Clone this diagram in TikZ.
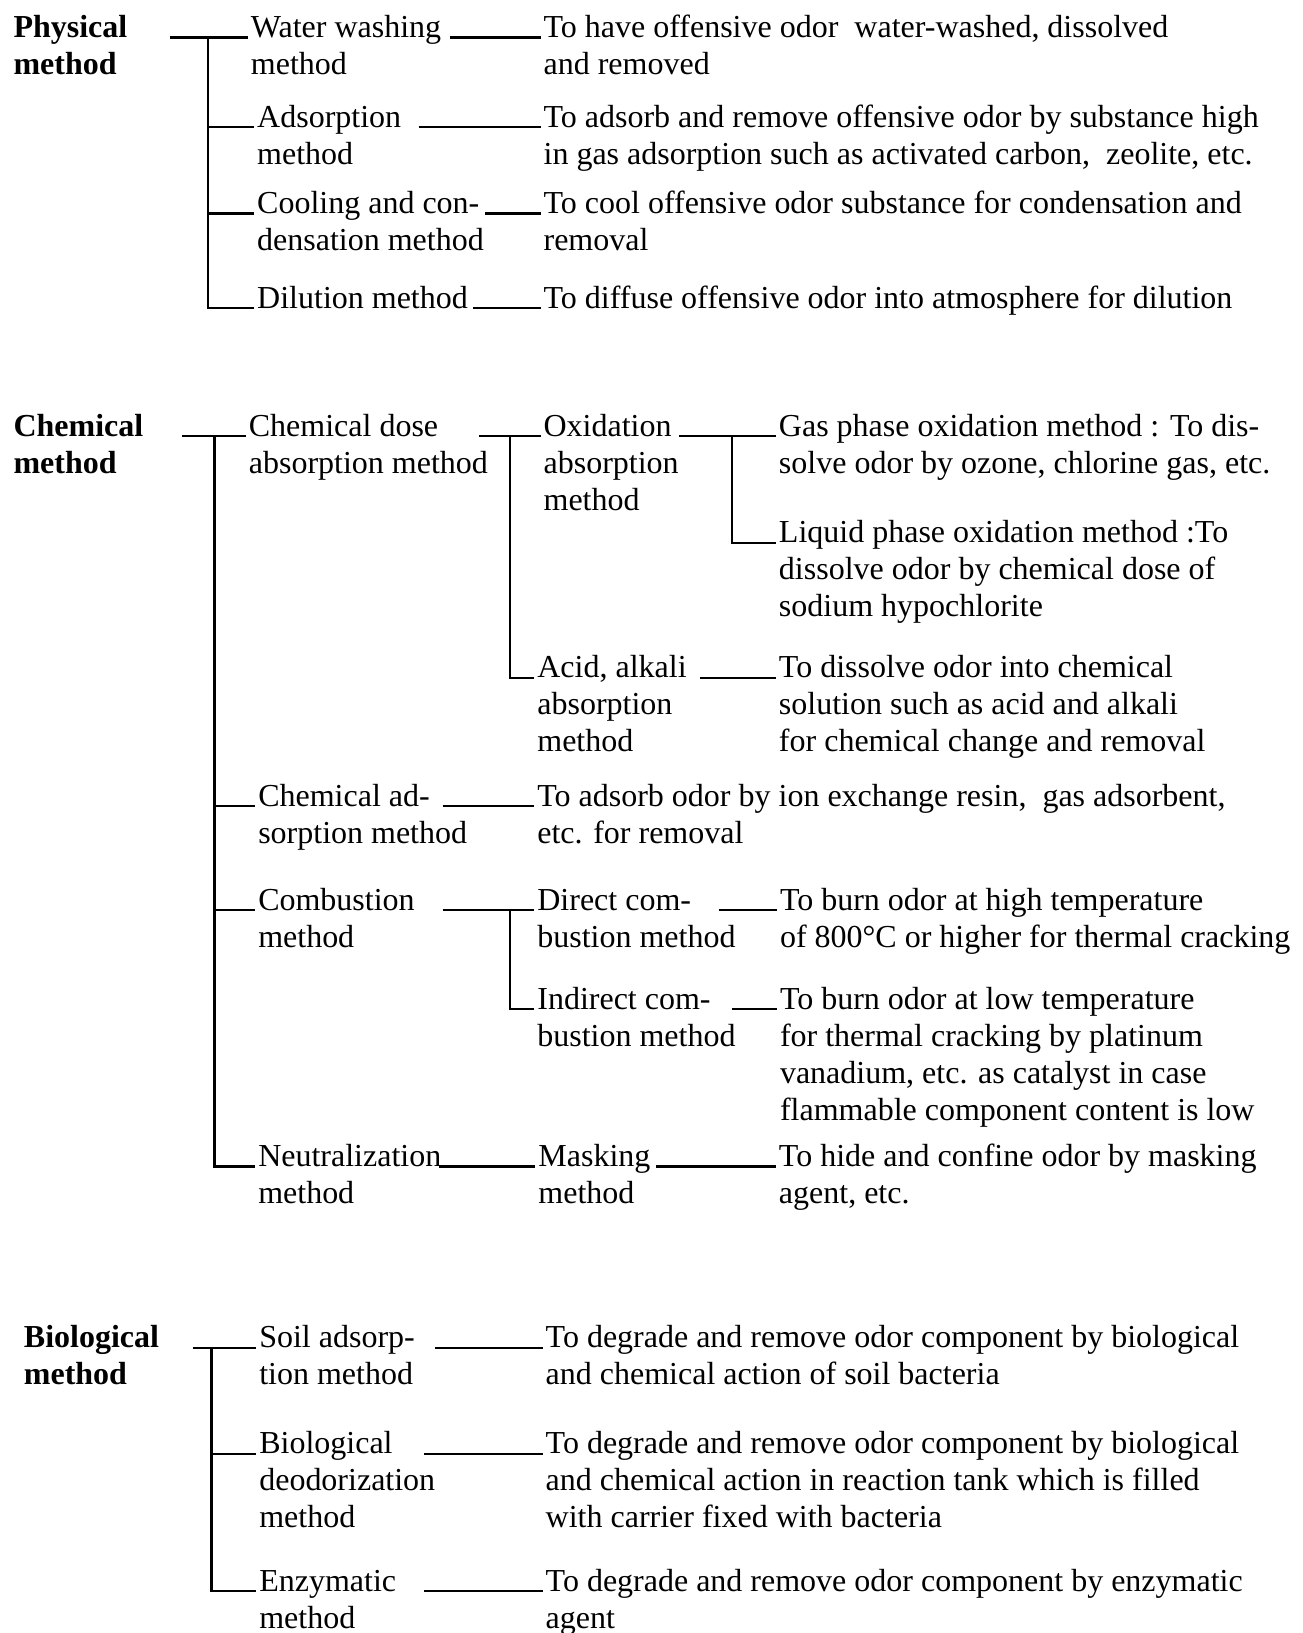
\documentclass[tikz,border=0pt]{standalone}
\usepackage{fontspec}
\setmainfont{Liberation Serif}
\newcommand\lns[1]{\begin{tabular}[t]{@{}l@{}}#1\end{tabular}}
\begin{document}
\begin{tikzpicture}[x=0.5208pt,y=-0.5208pt,line width=1.1pt,
    font=\fontsize{16}{18.5}\selectfont,
    txt/.style={anchor=base west,inner sep=1pt},
    hd/.style={txt,font=\fontsize{16}{18.5}\selectfont\bfseries}]
  \useasboundingbox (0,0) rectangle (1251,1568);

  \node [hd] (ph) at (10,36) {\lns{Physical\\method}};
  \node [txt] (w) at (238,36) {\lns{Water washing\\method}};
  \node [txt] (wt) at (519,36) {\lns{To have offensive odor~ water-washed, dissolved\\and removed}};
  \node [txt] (ad) at (244,122) {\lns{Adsorption\\method}};
  \node [txt] (adt) at (519,122) {\lns{To adsorb and remove offensive odor by substance high\\in gas adsorption such as activated carbon,~ zeolite, etc.}};
  \node [txt] (co) at (244,205) {\lns{Cooling and con-\\densation method}};
  \node [txt] (cot) at (519,205) {\lns{To cool offensive odor substance for condensation and\\removal}};
  \node [txt] (dl) at (244,296) {Dilution method};
  \node [txt] (dlt) at (519,296) {To diffuse offensive odor into atmosphere for dilution};

  \draw (ph.base -| 163,0) -- (w.base west);
  \draw (w.base -| 200,0) |- (dl.base west);
  \draw (ad.base -| 200,0) -- (ad.base west);
  \draw (co.base -| 200,0) -- (co.base west);
  \draw (w.base -| 432,0) -- (wt.base west);
  \draw (ad.base -| 402,0) -- (adt.base west);
  \draw (co.base -| 466,0) -- (cot.base west);
  \draw (dl.base -| 454,0) -- (dlt.base west);

  \node [hd] (ch) at (10,419) {\lns{Chemical\\method}};
  \node [txt] (cd) at (236,419) {\lns{Chemical dose\\absorption method}};
  \node [txt] (ox) at (519,419) {\lns{Oxidation\\absorption\\method}};
  \node [txt] (gp) at (745,419) {\lns{Gas phase oxidation method : To dis-\\solve odor by ozone, chlorine gas, etc.}};
  \node [txt] (lp) at (745,521) {\lns{Liquid phase oxidation method :To\\dissolve odor by chemical dose of\\sodium hypochlorite}};
  \node [txt] (ac) at (513,651) {\lns{Acid, alkali\\absorption\\method}};
  \node [txt] (act) at (745,651) {\lns{To dissolve odor into chemical\\solution such as acid and alkali\\for chemical change and removal}};
  \node [txt] (ca) at (245,774) {\lns{Chemical ad-\\sorption method}};
  \node [txt] (cat) at (513,774) {\lns{To adsorb odor by ion exchange resin,~ gas adsorbent,\\etc. for removal}};
  \node [txt] (cb) at (245,874) {\lns{Combustion\\method}};
  \node [txt] (dc) at (513,874) {\lns{Direct com-\\bustion method}};
  \node [txt] (dct) at (746,874) {\lns{To burn odor at high temperature\\of 800°C or higher for thermal cracking}};
  \node [txt] (ic) at (513,969) {\lns{Indirect com-\\bustion method}};
  \node [txt] (ict) at (746,969) {\lns{To burn odor at low temperature\\for thermal cracking by platinum\\vanadium, etc. as catalyst in case\\flammable component content is low}};
  \node [txt] (ne) at (245,1120) {\lns{Neutralization\\method}};
  \node [txt] (mk) at (514,1120) {\lns{Masking\\method}};
  \node [txt] (mkt) at (745,1120) {\lns{To hide and confine odor by masking\\agent, etc.}};

  \draw (ch.base -| 175,0) -- (cd.base west);
  \draw (cd.base -| 206,0) |- (ne.base west);
  \draw (ca.base -| 206,0) -- (ca.base west);
  \draw (cb.base -| 206,0) -- (cb.base west);
  \draw (cd.base -| 460,0) -- (ox.base west);
  \draw (ox.base -| 490,0) |- (ac.base west);
  \draw (ox.base -| 652,0) -- (gp.base west);
  \draw (gp.base -| 703,0) |- (lp.base west);
  \draw (ac.base -| 672,0) -- (act.base west);
  \draw (ca.base -| 425,0) -- (cat.base west);
  \draw (cb.base -| 425,0) -- (dc.base west);
  \draw (dc.base -| 490,0) |- (ic.base west);
  \draw (dc.base -| 690,0) -- (dct.base west);
  \draw (ic.base -| 703,0) -- (ict.base west);
  \draw (ne.base -| 422,0) -- (mk.base west);
  \draw (mk.base -| 630,0) -- (mkt.base west);

  \node [hd] (bi) at (20,1294) {\lns{Biological\\method}};
  \node [txt] (so) at (246,1294) {\lns{Soil adsorp-\\tion method}};
  \node [txt] (sot) at (521,1294) {\lns{To degrade and remove odor component by biological\\and chemical action of soil bacteria}};
  \node [txt] (bd) at (246,1396) {\lns{Biological\\deodorization\\method}};
  \node [txt] (bdt) at (521,1396) {\lns{To degrade and remove odor component by biological\\and chemical action in reaction tank which is filled\\with carrier fixed with bacteria}};
  \node [txt] (en) at (246,1528) {\lns{Enzymatic\\method}};
  \node [txt] (ent) at (521,1528) {\lns{To degrade and remove odor component by enzymatic\\agent}};

  \draw (bi.base -| 185,0) -- (so.base west);
  \draw (so.base -| 203,0) |- (en.base west);
  \draw (bd.base -| 203,0) -- (bd.base west);
  \draw (so.base -| 418,0) -- (sot.base west);
  \draw (bd.base -| 407,0) -- (bdt.base west);
  \draw (en.base -| 407,0) -- (ent.base west);
\end{tikzpicture}
\end{document}
